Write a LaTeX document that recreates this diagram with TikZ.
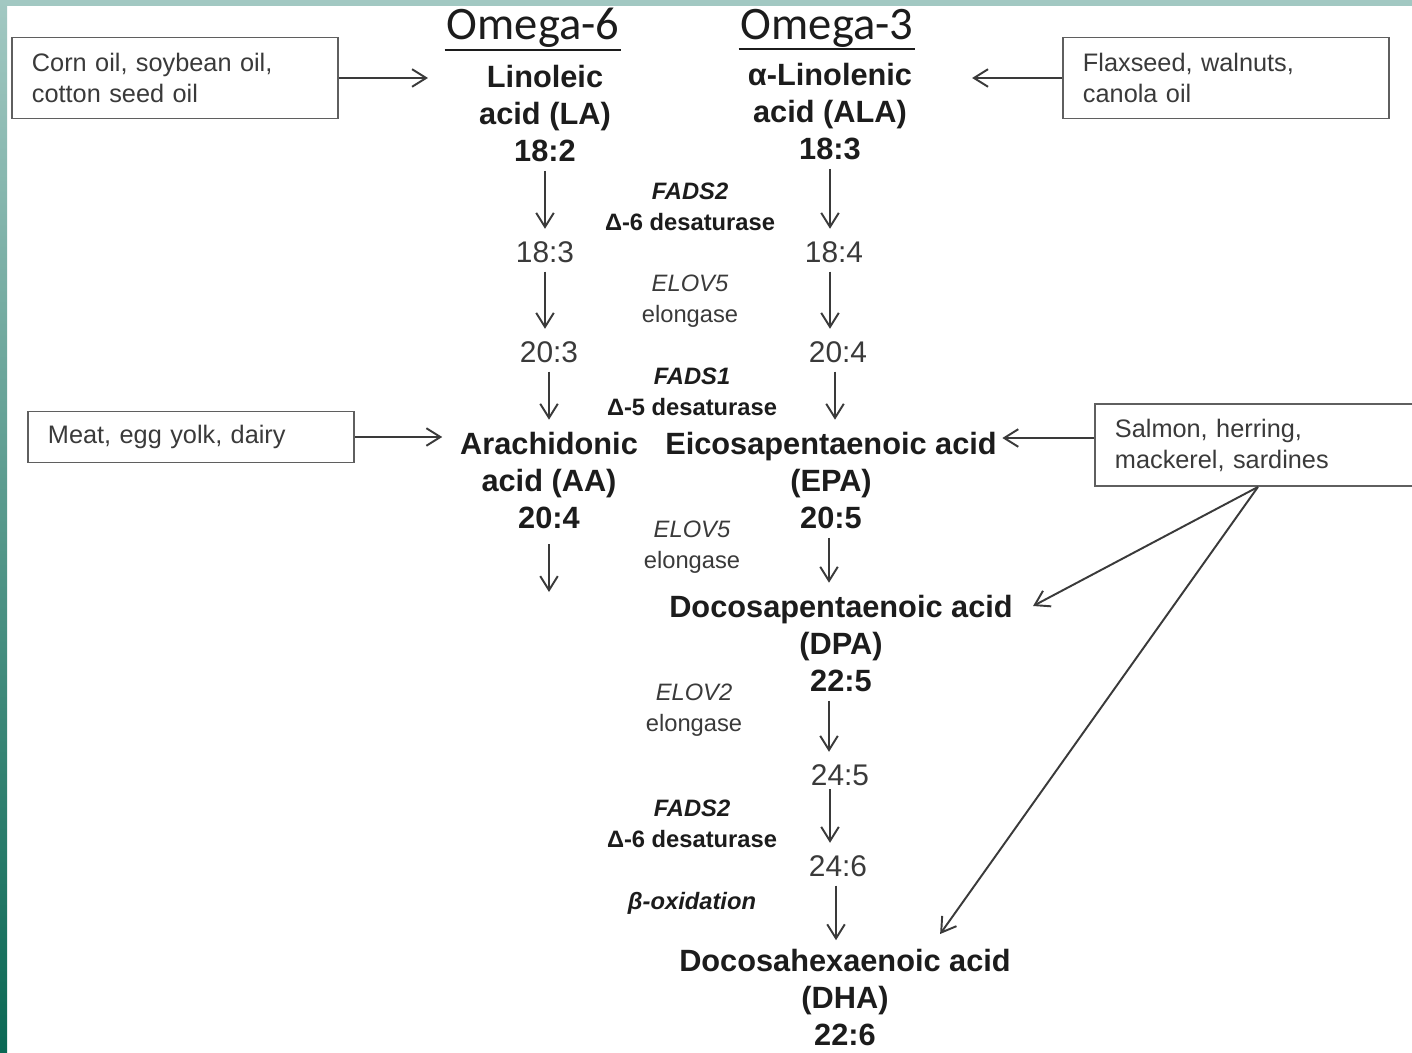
\documentclass[tikz,border=0pt]{standalone}
\usepackage{fontspec}
\setmainfont{Liberation Sans}
\newfontfamily\calibri{Carlito}
\usepackage{xcolor}
\definecolor{inkdark}{RGB}{28,28,28}
\definecolor{inkgray}{RGB}{58,58,58}
\definecolor{boxgray}{RGB}{95,95,95}
\definecolor{slidetop}{RGB}{162,200,194}
\definecolor{slidedeep}{RGB}{10,104,84}
\usetikzlibrary{arrows.meta, positioning, calc}

\begin{document}
\begin{tikzpicture}[x=0.02cm, y=-0.02cm,
  omega/.style={inner sep=1pt, text=inkdark, font=\calibri\fontsize{26.5}{30}\selectfont},
  acid/.style={anchor=north, align=center, inner sep=0pt, text=inkdark, font=\fontsize{17.5}{21}\selectfont\bfseries},
  chain/.style={inner sep=0pt, text=inkgray, font=\fontsize{17}{20}\selectfont},
  enzyme/.style={align=center, inner sep=0pt, text=inkgray, font=\fontsize{13.5}{17.6}\selectfont},
  desat/.style={enzyme, text=inkdark, font=\fontsize{13.5}{17.6}\selectfont\bfseries},
  source/.style={rectangle, anchor=west, draw=boxgray, line width=1.1pt, fill=white, text=inkgray, text width=5.72cm, inner xsep=0.4cm, align=left, font=\fontsize{14.4}{17.6}\selectfont},
  flow/.style={-{Straight Barb[length=8pt, width=10pt]}, line width=1.1pt, draw=inkgray},
  conv/.style={flow, shorten <=5pt, shorten >=7pt}
]
\useasboundingbox (0,0) rectangle (1412,1053);
\clip (0,0) rectangle (1412,1053);

% Slide background
\fill[white] (0,0) rectangle (1412,1053);
\fill[slidetop] (0,0) rectangle (1412,6);
\shade[top color=slidetop, bottom color=slidedeep] (0,0) rectangle (7,1053);

% Headings
\node[omega] (om6) at (533,28) {Omega-6};
\node[omega] (om3) at (827,28) {Omega-3};
\draw[line width=1.4pt, inkdark] (om6.south west) -- (om6.south east);
\draw[line width=1.4pt, inkdark] (om3.south west) -- (om3.south east);

% Fatty acids
\node[acid] (la) at (545,65) {Linoleic\\acid (LA)\\18:2};
\node[acid] (ala) at (830,63) {α-Linolenic\\acid (ALA)\\18:3};
\node[acid] (aa) at (549,432) {Arachidonic\\acid (AA)\\20:4};
\node[acid] (epa) at (831,432) {Eicosapentaenoic acid\\(EPA)\\20:5};
\node[acid] (dpa) at (841,595) {Docosapentaenoic acid\\(DPA)\\22:5};
\node[acid] (dha) at (845,949) {Docosahexaenoic acid\\(DHA)\\22:6};

% Intermediates
\node[chain] (c183) at (545,252) {18:3};
\node[chain] (c203) at (549,352) {20:3};
\node[chain] (c184) at (834,252) {18:4};
\node[chain] (c204) at (838,352) {20:4};
\node[chain] (c245) at (840,775) {24:5};
\node[chain] (c246) at (838,866) {24:6};

% Enzymes
\node[desat] (fads2a) at (690,207) {\textit{FADS2}\\Δ-6 desaturase};
\node[enzyme] (elov5a) at (690,301) {\textit{ELOV5}\\elongase};
\node[desat] (fads1) at (692,392) {\textit{FADS1}\\Δ-5 desaturase};
\node[enzyme] (elov5b) at (692,547) {\textit{ELOV5}\\elongase};
\node[enzyme] (elov2) at (694,710) {\textit{ELOV2}\\elongase};
\node[desat] (fads2b) at (692,824) {\textit{FADS2}\\Δ-6 desaturase};
\node[desat] (betaox) at (692,903) {\textit{β-oxidation}};

% Dietary sources
\node[source, minimum height=1.62cm] (corn) at (11,78) {Corn oil, soybean oil,\\cotton seed oil};
\node[source, minimum height=1.62cm] (flax) at (1062,78) {Flaxseed, walnuts,\\canola oil};
\node[source, minimum height=1.02cm] (meat) at (27,437) {Meat, egg yolk, dairy};
\node[source, minimum height=1.64cm] (fish) at (1094,445) {Salmon, herring,\\mackerel, sardines};

% Intake
\draw[flow, shorten >=29pt] (corn.east) -- (corn.east -| la.west);
\draw[flow, shorten >=34pt] (flax.west) -- (flax.west -| ala.east);
\draw[flow, shorten >=10pt] (meat.east) -- (meat.east -| aa.west);
\draw[flow, shorten >=3pt] ([yshift=0.14cm]fish.west) -- ([yshift=0.14cm]fish.west -| epa.east);
\draw[flow] (fish.south) -- ([xshift=0.4cm, yshift=-0.22cm]dpa.north east);
\draw[flow] (fish.south) -- ([xshift=-1.42cm, yshift=0.3cm]dha.north east);

% Omega-6 pathway
\draw[conv] (la.south) -- (la.south |- c183.north);
\draw[conv] (c183.south) -- (c183.south |- c203.north);
\draw[conv] (c203.south) -- (c203.south |- aa.north);
\coordinate (aaend) at (549,592);
\draw[conv, shorten <=8.5pt, shorten >=0pt] (aa.south) -- (aaend);

% Omega-3 pathway
\draw[conv] (ala.south) -- (ala.south |- c184.north);
\draw[conv] ([xshift=-0.08cm]c184.south) -- ([xshift=-0.08cm]c184.south |- c204.north);
\draw[conv] ([xshift=-0.06cm]c204.south) -- ([xshift=-0.06cm]c204.south |- epa.north);
\draw[conv] ([xshift=-0.04cm]epa.south) -- ([xshift=-0.04cm]epa.south |- dpa.north);
\draw[conv] ([xshift=-0.24cm]dpa.south) -- ([xshift=-0.24cm]dpa.south |- c245.north);
\draw[conv, shorten <=2pt] ([xshift=-0.2cm]c245.south) -- ([xshift=-0.2cm]c245.south |- c246.north);
\draw[conv, shorten >=5pt] ([xshift=-0.04cm]c246.south) -- ([xshift=-0.04cm]c246.south |- dha.north);

\end{tikzpicture}
\end{document}
